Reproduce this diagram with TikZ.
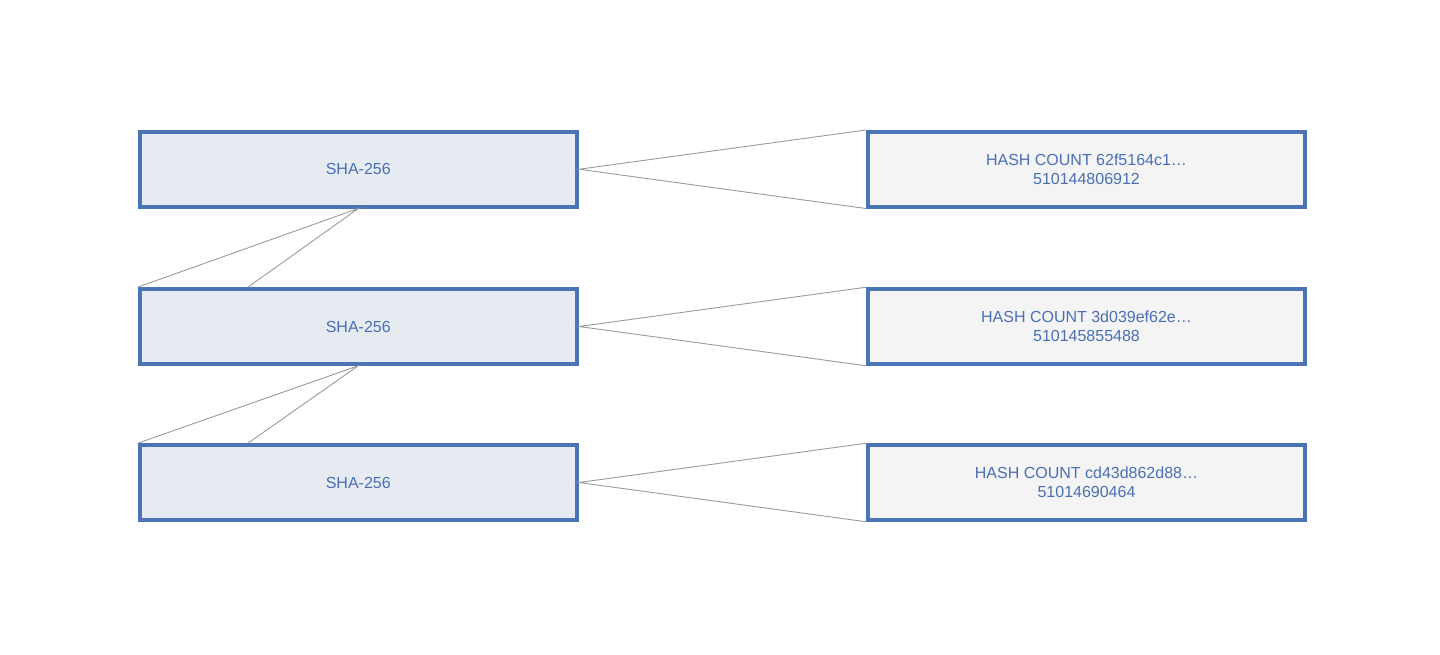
\documentclass[tikz,border=0pt]{standalone}
\usepackage{fontspec}
\setmainfont{Liberation Sans}
\usetikzlibrary{calc}
\definecolor{edge}{HTML}{4A74B4}
\definecolor{txt}{HTML}{4A6FB5}
\definecolor{shafill}{HTML}{E6EBF2}
\definecolor{hashfill}{HTML}{F4F4F4}
\definecolor{conn}{HTML}{9A9A9A}
\tikzset{
  box/.style={draw=edge, line width=4pt, minimum height=74.5pt, inner sep=0pt, text=txt,
    font=\fontsize{16}{19}\selectfont, align=center},
  shabox/.style={box, fill=shafill, minimum width=437.5pt},
  hashbox/.style={box, fill=hashfill, minimum width=437pt},
  link/.style={draw=conn, line width=0.9pt}
}
\begin{document}
\begin{tikzpicture}[x=1pt,y=-1pt]
\useasboundingbox (0,0) rectangle (1440,654);
\node[shabox] (s1) at (358.25,169.25) {SHA-256};
\node[shabox] (s2) at (358.25,326.5) {SHA-256};
\node[shabox] (s3) at (358.25,482.5) {SHA-256};
\node[hashbox] (h1) at (1086.5,169.25) {HASH COUNT 62f5164c1…\\510144806912};
\node[hashbox] (h2) at (1086.5,326.5) {HASH COUNT 3d039ef62e…\\510145855488};
\node[hashbox] (h3) at (1086.5,482.5) {HASH COUNT cd43d862d88…\\51014690464};
\foreach \i in {1,2,3}{
  \draw[link] (h\i.north west) -- (s\i.east) -- (h\i.south west);
}
\draw[link] (s2.north west) -- (s1.south) -- ($(s2.north west)!0.25!(s2.north east)$);
\draw[link] (s3.north west) -- (s2.south) -- ($(s3.north west)!0.25!(s3.north east)$);
\end{tikzpicture}
\end{document}
